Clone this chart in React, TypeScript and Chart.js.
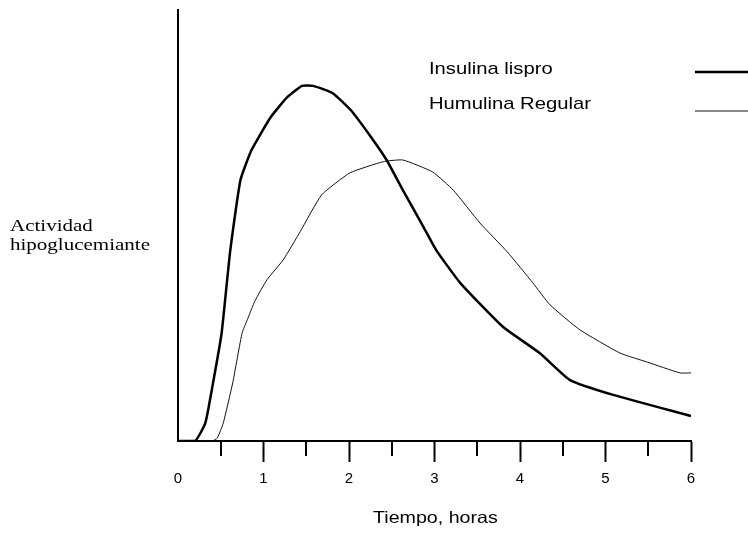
import React, { useEffect, useRef } from "react";
import { Chart, registerables } from "chart.js";

Chart.register(...registerables);

// ---- data ----
const seriesLabels = ["Insulina lispro", "Humulina Regular"];
const xTitle = "Tiempo, horas";
const yTitleLines = ["Actividad", "hipoglucemiante"];
const tickLabels = ["0", "1", "2", "3", "4", "5", "6"];
const minorTickValues = [0.5, 1.5, 2.5, 3.5, 4.5, 5.5];

const lisproHours = [0, 0.2, 0.32, 0.41, 0.51, 0.61, 0.73, 0.86, 1.08, 1.27, 1.45, 1.58, 1.81, 2.02, 2.24, 2.44, 2.63, 2.87, 3.02, 3.3, 3.8, 4.23, 4.58, 5.09, 6.0];
const lisproActivity = [0, 0, 4.2, 13.5, 25, 44, 60.5, 67.5, 75, 79.6, 82.4, 82.4, 80.7, 76.8, 71, 65.2, 58.2, 49.7, 44.3, 36.7, 26.5, 20.4, 14.2, 10.7, 5.8];

const regularHours = [0, 0.4, 0.46, 0.53, 0.64, 0.75, 0.81, 0.9, 1.04, 1.23, 1.43, 1.68, 2.01, 2.4, 2.63, 2.98, 3.22, 3.53, 3.85, 4.15, 4.35, 4.7, 5.17, 5.49, 5.87, 6.0];
const regularActivity = [0, 0, 0.7, 4.2, 13.5, 25.1, 28.1, 32.5, 37.4, 42, 48.6, 57.1, 62.2, 64.8, 65.2, 62.4, 58.2, 50.6, 43.9, 36.7, 31.6, 25.8, 20.4, 18.3, 15.8, 15.8];

const sans = "'Liberation Sans', Arial, sans-serif";
const serif = "'Liberation Serif', 'Times New Roman', serif";

function stretchedText(ctx: CanvasRenderingContext2D, text: string, x: number, y: number, font: string, sx: number) {
  ctx.save();
  ctx.translate(x, y);
  ctx.scale(sx, 1);
  ctx.font = font;
  ctx.fillStyle = "#000";
  ctx.textAlign = "left";
  ctx.textBaseline = "alphabetic";
  ctx.fillText(text, 0, 0);
  ctx.restore();
}

const overlayPlugin = {
  id: "overlay",
  afterDraw(chart: any) {
    const ctx: CanvasRenderingContext2D = chart.ctx;
    const xs = chart.scales.x;
    // minor ticks
    ctx.save();
    ctx.strokeStyle = "#000";
    ctx.lineWidth = 2;
    minorTickValues.forEach((v) => {
      const px = Math.round(xs.getPixelForValue(v));
      ctx.beginPath();
      ctx.moveTo(px, xs.top);
      ctx.lineTo(px, xs.top + 15);
      ctx.stroke();
    });
    ctx.restore();

    // y title (horizontal, two lines)
    stretchedText(ctx, yTitleLines[0], 10, 231, `17.5px ${serif}`, 1.2);
    stretchedText(ctx, yTitleLines[1], 10, 250, `17.5px ${serif}`, 1.2);

    // x title
    stretchedText(ctx, xTitle, 373, 523, `16.5px ${sans}`, 1.19);

    // legend
    const ds = chart.data.datasets;
    const rows = [
      { textY: 74, lineY: 72 },
      { textY: 109, lineY: 111 },
    ];
    ds.forEach((d: any, i: number) => {
      stretchedText(ctx, d.label, 429, rows[i].textY, `17px ${sans}`, 1.19);
      ctx.save();
      ctx.strokeStyle = d.borderColor;
      ctx.lineWidth = d.borderWidth;
      ctx.beginPath();
      ctx.moveTo(695, rows[i].lineY);
      ctx.lineTo(748, rows[i].lineY);
      ctx.stroke();
      ctx.restore();
    });
  },
};

export default function App() {
  const ref = useRef<HTMLCanvasElement | null>(null);
  useEffect(() => {
    if (!ref.current) return;
    const chart = new Chart(ref.current, {
      type: "line",
      data: {
        datasets: [
          {
            label: seriesLabels[0],
            data: lisproHours.map((h, i) => ({ x: h, y: lisproActivity[i] })),
            borderColor: "#000",
            borderWidth: 2.5,
            pointRadius: 0,
            tension: 0.15,
            fill: false,
          },
          {
            label: seriesLabels[1],
            data: regularHours.map((h, i) => ({ x: h, y: regularActivity[i] })),
            borderColor: "#111",
            borderWidth: 1,
            pointRadius: 0,
            tension: 0.15,
            fill: false,
          },
        ],
      },
      options: {
        animation: false,
        responsive: false,
        layout: { padding: { left: 178, right: 57, top: 10, bottom: 0 } },
        plugins: {
          legend: { display: false },
          tooltip: { enabled: false },
          title: { display: false },
        },
        scales: {
          x: {
            type: "linear",
            min: 0,
            max: 6,
            afterFit: (s: any) => {
              s.height = 92;
            },
            ticks: {
              stepSize: 1,
              color: "#000",
              padding: 8,
              font: { family: sans, size: 15 },
              callback: (v: any) => tickLabels[Math.round(Number(v))] ?? "",
            },
            grid: {
              drawOnChartArea: false,
              drawTicks: true,
              tickLength: 21,
              tickWidth: 2,
              tickColor: (c: any) => (c.tick && c.tick.value === 0 ? "rgba(0,0,0,0)" : "#000"),
            },
            border: { display: true, color: "#000", width: 2 },
          },
          y: {
            type: "linear",
            min: 0,
            max: 100,
            afterFit: (s: any) => {
              s.width = 0;
            },
            ticks: { display: false },
            grid: { drawOnChartArea: false, drawTicks: false },
            border: { display: true, color: "#000", width: 2 },
          },
        },
      },
      plugins: [overlayPlugin],
    });
    return () => chart.destroy();
  }, []);
  return (
    <div style={{ position: "fixed", left: 0, top: 0, width: 748, height: 533, background: "#fff" }}>
      <canvas ref={ref} width={748} height={533} style={{ display: "block" }} />
    </div>
  );
}
